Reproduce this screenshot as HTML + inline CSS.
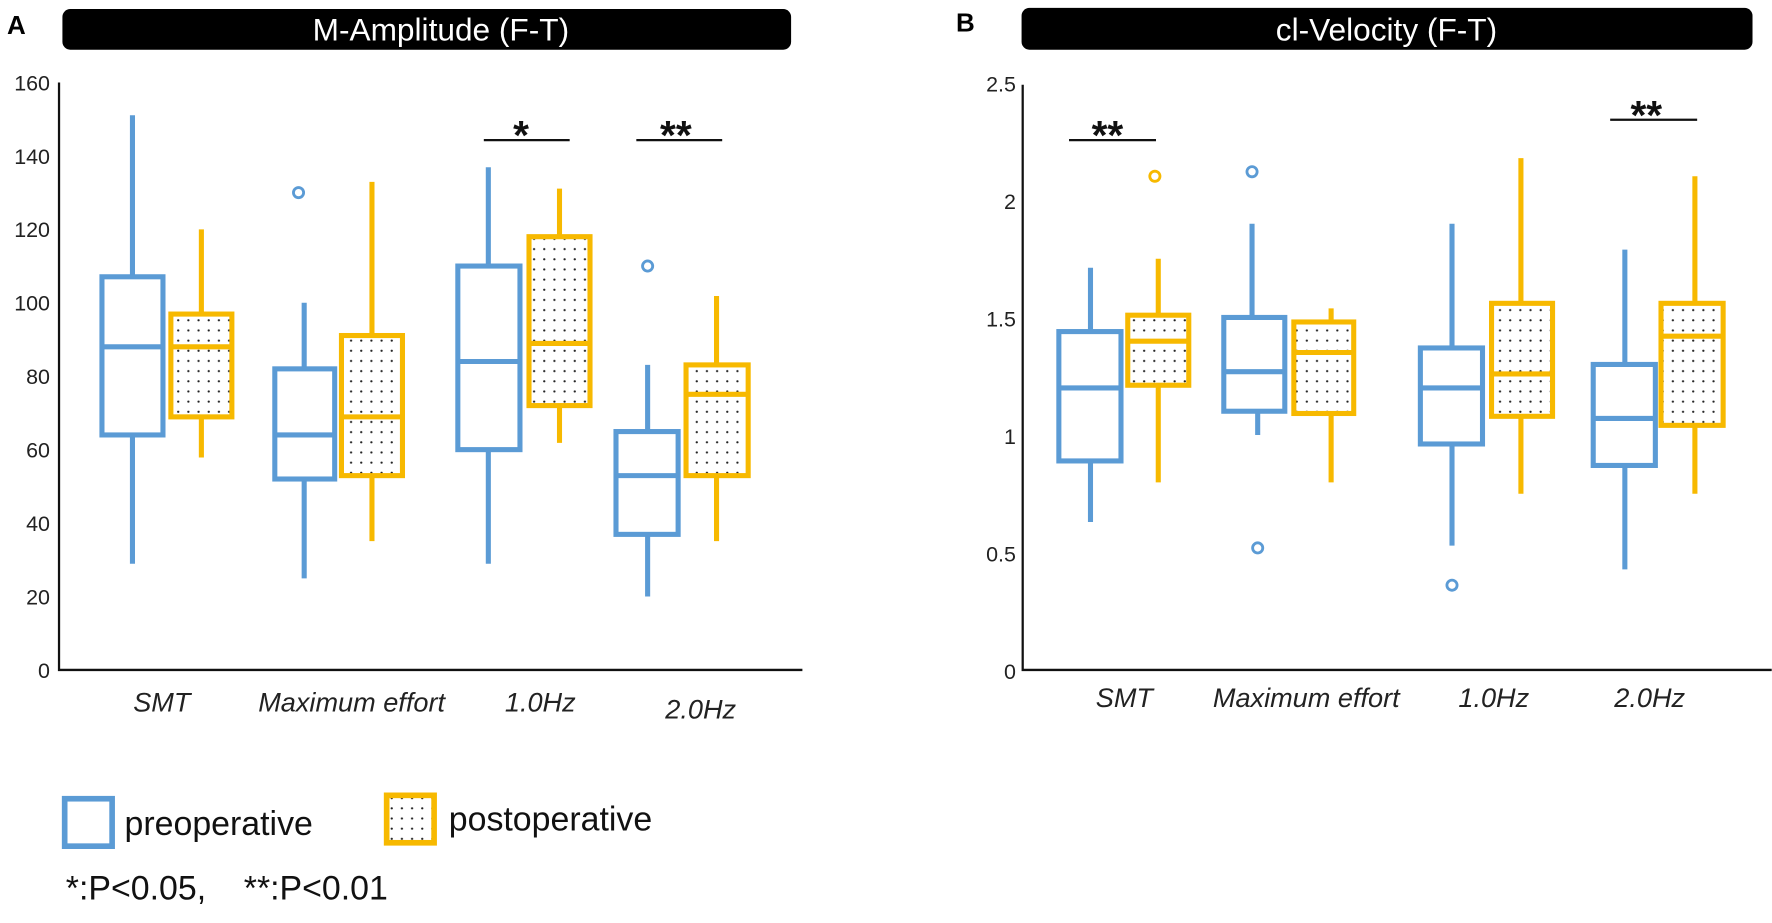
<!DOCTYPE html>
<html><head><meta charset="utf-8"><style>html,body{margin:0;padding:0;background:#fff}svg{display:block}</style></head>
<body>
<svg width="1772" height="923" viewBox="0 0 1568 817" xmlns="http://www.w3.org/2000/svg" font-family="Liberation Sans, Arial, sans-serif">
<defs>
<pattern id="dots" width="9" height="9" patternUnits="userSpaceOnUse">
<rect width="9" height="9" fill="#fff"/><circle cx="4.5" cy="4.5" r="1" fill="#222"/>
</pattern>
</defs>
<rect width="1568" height="817" fill="#fff"/>
<!-- Panel A -->
<text x="6" y="30" font-size="23" font-weight="bold">A</text>
<rect x="55" y="8" width="645" height="36" rx="7" fill="#000"/>
<text x="390" y="36" font-size="28" fill="#fff" text-anchor="middle">M-Amplitude (F-T)</text>
<g font-size="19" fill="#222" text-anchor="end">
<text x="44" y="80">160</text><text x="44" y="145">140</text><text x="44" y="210">120</text><text x="44" y="275">100</text>
<text x="44" y="340">80</text><text x="44" y="405">60</text><text x="44" y="470">40</text><text x="44" y="535">20</text><text x="44" y="600">0</text>
</g>
<path d="M52 73V593H710" fill="none" stroke="#111" stroke-width="2"/>
<g stroke="#5B9BD5" stroke-width="4.5" fill="none">
<path d="M117 102V499M269 268V512M432 148V499M573 323V528"/>
</g>
<g stroke="#F7B900" stroke-width="4.5" fill="none">
<path d="M178 203V405M329 161V479M495 167V392M634 262V479"/>
</g>
<g stroke="#5B9BD5" stroke-width="4.5" fill="#fff">
<rect x="90" y="245" width="54" height="140"/><path d="M90 307H144"/>
<rect x="243" y="326.5" width="53" height="97.5"/><path d="M243 385H296"/>
<rect x="405" y="235.5" width="55" height="162.5"/><path d="M405 320H460"/>
<rect x="545" y="382" width="55" height="91"/><path d="M545 421H600"/>
<circle cx="264" cy="170.5" r="4.5" stroke-width="2.5"/><circle cx="573" cy="235.5" r="4.5" stroke-width="2.5"/>
</g>
<g stroke="#F7B900" stroke-width="4.5" fill="url(#dots)">
<rect x="151" y="278" width="54" height="91"/><path d="M151 307H205"/>
<rect x="302" y="297" width="54" height="124"/><path d="M302 369H356"/>
<rect x="468" y="209.5" width="54" height="149.5"/><path d="M468 304H522"/>
<rect x="607" y="323" width="55" height="98"/><path d="M607 349H662"/>
</g>
<path d="M428 124H504M563 124H639" stroke="#111" stroke-width="2"/>
<g font-size="36" font-weight="bold" text-anchor="middle" fill="#111"><text x="461" y="132">*</text><text x="598" y="132">**</text></g>
<g font-size="24" font-style="italic" fill="#222" text-anchor="middle">
<text x="143" y="630">SMT</text><text x="311" y="630">Maximum effort</text><text x="478" y="630">1.0Hz</text><text x="620" y="636">2.0Hz</text>
</g>
<rect x="57" y="707" width="42" height="42" fill="#fff" stroke="#5B9BD5" stroke-width="5"/>
<text x="110" y="739" font-size="30" fill="#111">preoperative</text>
<rect x="342" y="704" width="42" height="42" fill="url(#dots)" stroke="#F7B900" stroke-width="5"/>
<text x="397" y="735" font-size="30" fill="#111">postoperative</text>
<text x="58" y="796" font-size="30" fill="#111">*:P&lt;0.05,&#160;&#160;&#160; **:P&lt;0.01</text>
<!-- Panel B -->
<text x="846" y="28" font-size="23" font-weight="bold">B</text>
<rect x="904" y="7" width="647" height="37" rx="7" fill="#000"/>
<text x="1227" y="36" font-size="28" fill="#fff" text-anchor="middle">cl-Velocity (F-T)</text>
<g font-size="19" fill="#222" text-anchor="end">
<text x="899" y="81">2.5</text><text x="899" y="185">2</text><text x="899" y="289">1.5</text><text x="899" y="393">1</text>
<text x="899" y="497">0.5</text><text x="899" y="601">0</text>
</g>
<path d="M905 75V593H1568" fill="none" stroke="#111" stroke-width="2"/>
<g stroke="#5B9BD5" stroke-width="4.5" fill="none">
<path d="M965 237V462M1108 198V300M1113 340V385M1285 198V483M1438 221V504"/>
</g>
<g stroke="#F7B900" stroke-width="4.5" fill="none">
<path d="M1025 229V427M1178 273V427M1346 140V437M1500 156V437"/>
</g>
<g stroke="#5B9BD5" stroke-width="4.5" fill="#fff">
<rect x="937" y="293.5" width="55" height="114.5"/><path d="M937 343.4H992"/>
<rect x="1083" y="281" width="54" height="83"/><path d="M1083 329H1137"/>
<rect x="1257" y="308" width="55" height="85"/><path d="M1257 343.4H1312"/>
<rect x="1410" y="322.6" width="55" height="89.4"/><path d="M1410 370.4H1465"/>
<circle cx="1108" cy="152" r="4.5" stroke-width="2.5"/><circle cx="1113" cy="485" r="4.5" stroke-width="2.5"/><circle cx="1285" cy="518" r="4.5" stroke-width="2.5"/>
</g>
<g stroke="#F7B900" stroke-width="4.5" fill="url(#dots)">
<rect x="998" y="279" width="54" height="62"/><path d="M998 302H1052"/>
<rect x="1145" y="285" width="53" height="81"/><path d="M1145 312H1198"/>
<rect x="1320" y="268.5" width="54" height="100"/><path d="M1320 331H1374"/>
<rect x="1470" y="268.5" width="55" height="108"/><path d="M1470 297.6H1525"/>
<circle cx="1022" cy="156" r="4.5" stroke-width="2.5" fill="#fff"/>
</g>
<path d="M946 124H1023M1425 106H1502" stroke="#111" stroke-width="2"/>
<g font-size="36" font-weight="bold" text-anchor="middle" fill="#111"><text x="980" y="132">**</text><text x="1457" y="114">**</text></g>
<g font-size="24" font-style="italic" fill="#222" text-anchor="middle">
<text x="995" y="626">SMT</text><text x="1156" y="626">Maximum effort</text><text x="1322" y="626">1.0Hz</text><text x="1460" y="626">2.0Hz</text>
</g>
</svg>
</body></html>
